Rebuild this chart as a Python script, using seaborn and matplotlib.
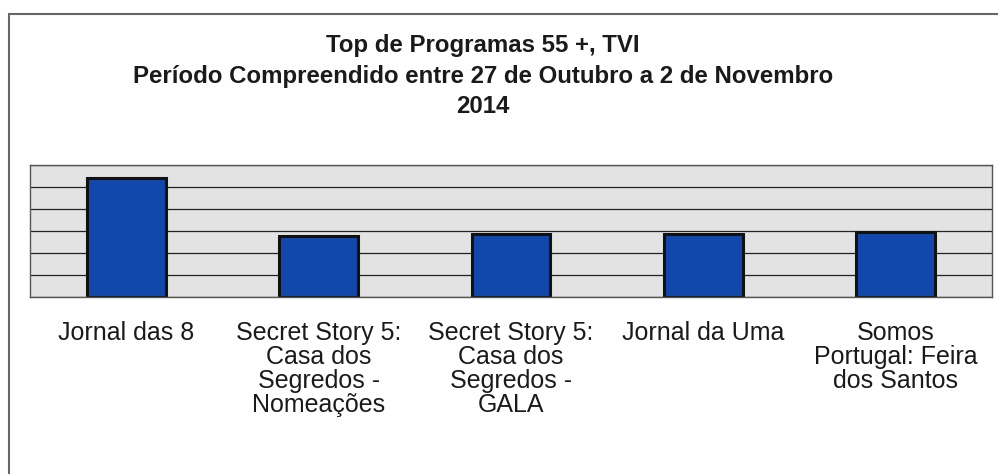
import numpy as np
import pandas as pd
import seaborn as sns
import matplotlib.pyplot as plt
from matplotlib.patches import Rectangle
from matplotlib.ticker import FixedLocator

programas = [
    "Jornal das 8",
    "Secret Story 5:\nCasa dos\nSegredos -\nNomeações",
    "Secret Story 5:\nCasa dos\nSegredos -\nGALA",
    "Jornal da Uma",
    "Somos\nPortugal: Feira\ndos Santos",
]
audiencia = [5.4, 2.78, 2.88, 2.85, 2.94]

titulo = ("Top de Programas 55 +, TVI\n"
          "Período Compreendido entre 27 de Outubro a 2 de Novembro\n"
          "2014")

sns.set_style("white")
plt.rcParams['font.family'] = ['Liberation Sans', 'DejaVu Sans']

df = pd.DataFrame({"programa": programas, "audiencia": audiencia})

fig = plt.figure(figsize=(9.98, 4.74), dpi=100)
ax = fig.add_axes([30/998, 1 - 297/474, 962/998, 132/474])

sns.barplot(data=df, x="programa", y="audiencia", color="#1247AC",
            edgecolor="#111111", linewidth=2.2, width=0.41, saturation=1, ax=ax)

ax.set_facecolor("#e3e3e3")
ax.set_ylim(0, 6)
ax.set_xlim(-0.5, 4.5)
ax.set_yticks(np.arange(0, 7, 1))
ax.set_yticklabels([])
ax.tick_params(axis='y', length=0)
ax.yaxis.grid(True, color="#222222", linewidth=0.9)
ax.set_axisbelow(True)

# category boundary ticks below the axis
ax.xaxis.set_minor_locator(FixedLocator(np.arange(-0.5, 5, 1)))
ax.tick_params(axis='x', which='minor', length=8, width=1, color="#333333", direction='out')
ax.tick_params(axis='x', which='major', length=0, pad=17, labelsize=18,
               labelcolor="#1a1a1a")
for lbl in ax.get_xticklabels():
    lbl.set_linespacing(1.0)

for s in ax.spines.values():
    s.set_color("#555555")
    s.set_linewidth(1)

ax.set_xlabel("")
ax.set_ylabel("")

fig.text(0.484, 1 - 34/474, titulo, ha="center", va="top", fontsize=17.3,
         fontweight="bold", linespacing=1.42, color="#1a1a1a")

# outer frame of the chart (cut by the page edge)
fig.patches.append(Rectangle((9/998, -0.1), 1.2, 1 - 14/474 + 0.1,
                             transform=fig.transFigure, fill=False,
                             edgecolor="#666666", linewidth=1.5))

fig.savefig("out.png", dpi=100)
